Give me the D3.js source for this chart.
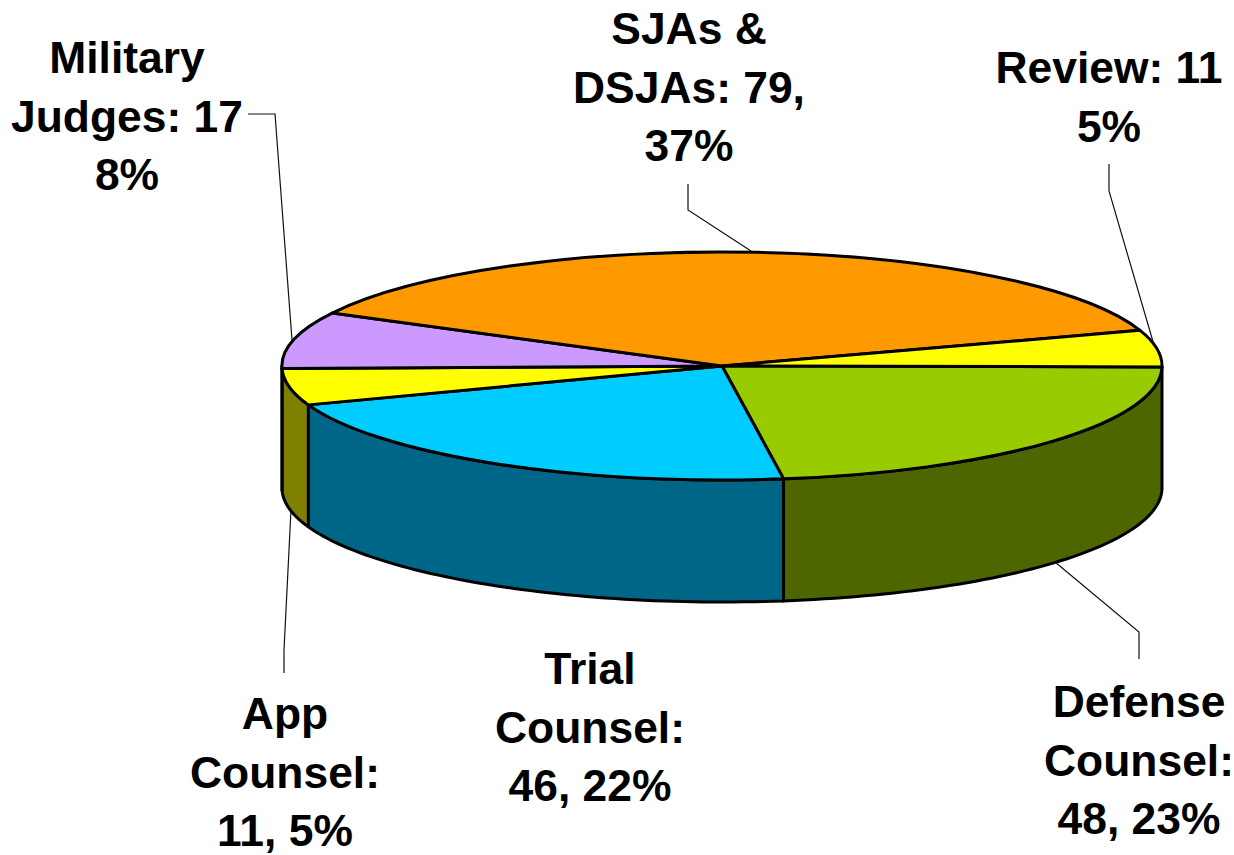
<!DOCTYPE html>
<html><head><meta charset="utf-8">
<script src="https://cdn.jsdelivr.net/npm/d3@7"></script>
<style>html,body{margin:0;background:#fff}svg{display:block}text{font-family:"Liberation Sans",Arial,sans-serif;font-weight:700;font-size:44.4px;fill:#000;text-anchor:middle}</style>
</head><body><div id="c"></div>
<script>
const categories=["Defense Counsel","Trial Counsel","App Counsel","Military Judges","SJAs & DSJAs","Review"];
const values=[48,46,11,17,79,11];
const topColors=["#99cc00","#00ccff","#ffff00","#cc99ff","#ff9900","#ffff00"];
const sideColors=["#4d6600","#006688","#808000","#806699","#804d00","#808000"];
const labelLines=[["Defense","Counsel:","48, 23%"],["Trial","Counsel:","46, 22%"],["App","Counsel:","11, 5%"],["Military","Judges: 17","8%"],["SJAs &","DSJAs: 79,","37%"],["Review: 11","5%"]];
const labelPos=[[1139,717],[590,684],[285,729],[127,73],[689,44],[1109,83]];
const leaders=[[[1055,562],[1139,632],[1139,659]],[],[[291,510],[284,650],[284,673]],[[248,114],[275,114],[292,340]],[[688,184],[688,210],[751,251]],[[1109,164],[1109,191],[1154,345]]];
const W=1234,H=855,cx=722,cy=366,rx=440,ry=114,depth=122,lh=58.6,rot=0.008;
const svg=d3.select("#c").append("svg").attr("width",W).attr("height",H);
const pie=d3.pie().sort(null).value(d=>d).startAngle(Math.PI/2+rot).endAngle(Math.PI*2.5+rot);
const arcs=pie(values);
// d3 angle (0 = north, clockwise) projected on the flattened ellipse
const px=a=>cx+rx*Math.sin(a), py=a=>cy-ry*Math.cos(a);
// walls: only the front half (d3 angles PI/2..3PI/2) is visible
const front=[Math.PI/2,Math.PI*1.5];
const wall=svg.append("g");
arcs.forEach((d,i)=>{
  const a0=Math.max(d.startAngle,front[0]),a1=Math.min(d.endAngle,front[1]);
  if(a1<=a0)return;
  const as=d3.range(0,61).map(k=>a0+(a1-a0)*k/60);
  const pts=as.map(a=>[px(a),py(a)]).concat(as.slice().reverse().map(a=>[px(a),py(a)+depth]));
  wall.append("path").attr("d",d3.line()(pts)+"Z").attr("fill",sideColors[i]).attr("stroke","#000").attr("stroke-width",3).attr("stroke-linejoin","round");
});
const arc=d3.arc().innerRadius(0).outerRadius(1);
const topFace=svg.append("g").attr("transform",`translate(${cx},${cy}) scale(${rx},${ry})`);
topFace.selectAll("path").data(arcs).join("path").attr("d",arc).attr("fill",(d,i)=>topColors[i]).attr("stroke","#000").attr("stroke-width",3).attr("vector-effect","non-scaling-stroke").attr("stroke-linejoin","round");
const lead=d3.line();
leaders.forEach(l=>{if(l.length)svg.append("path").attr("d",lead(l)).attr("fill","none").attr("stroke","#111").attr("stroke-width",1.2);});
labelLines.forEach((ls,i)=>{
  const t=svg.append("text").attr("x",labelPos[i][0]).attr("y",labelPos[i][1]);
  ls.forEach((s,j)=>t.append("tspan").attr("x",labelPos[i][0]).attr("y",labelPos[i][1]+j*lh).text(s));
});
</script></body></html>
